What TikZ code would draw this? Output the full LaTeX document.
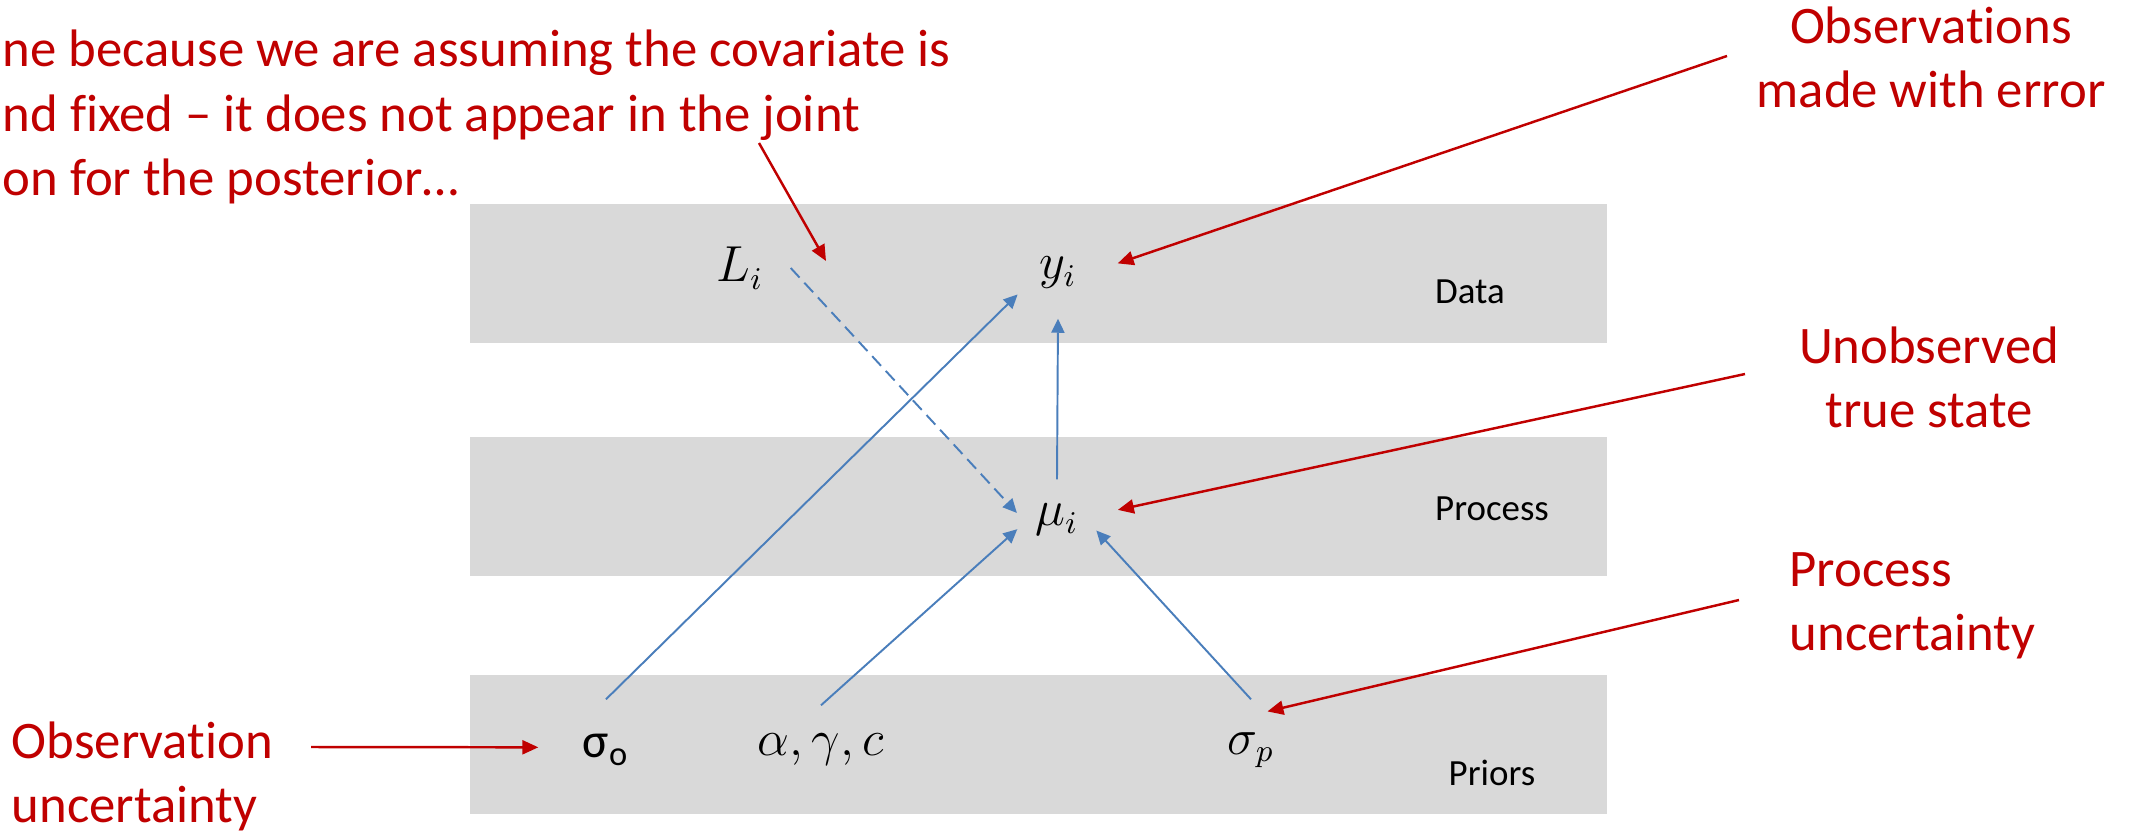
\documentclass[tikz,border=0pt]{standalone}
\usepackage{fontspec}
\setmainfont{Carlito}[Ligatures=NoCommon]
\usetikzlibrary{arrows.meta,positioning,calc}
\definecolor{bandgrey}{HTML}{D9D9D9}
\definecolor{edgeblue}{HTML}{4A7EBB}
\definecolor{notered}{HTML}{C00000}
\tikzset{
  band/.style={fill=bandgrey, draw=none},
  varnode/.style={circle, inner sep=0pt, minimum size=1cm, font=\fontsize{13.5}{16}\selectfont},
  bandlabel/.style={inner sep=0pt, font=\fontsize{10.5}{12}\selectfont},
  note/.style={inner sep=0pt, text=notered, font=\fontsize{15}{18.2}\selectfont},
  arr/.style={-{Triangle[length=1.4mm, width=1.3mm]}, line width=0.55pt, color=edgeblue},
  darr/.style={arr, dash pattern=on 1.3mm off 0.7mm},
  rarr/.style={-{Triangle[length=1.6mm, width=1.4mm]}, line width=0.7pt, color=notered}}

\begin{document}
\begin{tikzpicture}[x=0.01cm, y=-0.01cm]
  \useasboundingbox (0,0) rectangle (2141,833);
  % layers
  \fill[band] (470,204) rectangle (1607,343);
  \fill[band] (470,437) rectangle (1607,576);
  \fill[band] (470,675) rectangle (1607,814);
  \node[bandlabel] (datalbl) at (1470,292) {Data};
  \node[bandlabel] (proclbl) at (1492,509) {Process};
  \node[bandlabel] (priorlbl) at (1492,773) {Priors};

  % quantities
  \node[varnode] (L) at (740,268) {$L_i$};
  \node[varnode, minimum size=0.9cm] (y) at (1058,273) {$y_i$};
  \node[varnode, minimum size=0.8cm] (mu) at (1057,520) {$\mu_i$};
  \node[varnode, font=\fontsize{14}{16}\selectfont] (so) at (606,750) {σ\textsubscript{o}};
  \node[inner sep=0pt, minimum height=0.88cm, font=\fontsize{13.5}{16}\selectfont] (abc) at (821,750) {$\alpha,\gamma,c$};
  \node[varnode] (sp) at (1251,750) {$\sigma_p$};

  \draw[arr] (so.90) -- (y.208);
  \draw[arr] (abc.north) -- (mu.193);
  \draw[arr] (sp.90) -- (mu.345);
  \draw[arr] (mu.90) -- (y.270);
  \draw[darr] (L.0) -- (mu.170);

  % annotations
  \node[note, align=left, anchor=base west] (covnote) at (2,195)
    {ne because we are assuming the covariate is\\nd fixed – it does not appear in the joint\\on for the posterior…};
  \node[note, align=center, anchor=base] (obsnote) at (1931,107) {Observations\\made with error};
  \node[note, align=center, anchor=base] (unobsnote) at (1929,427) {Unobserved\\true state};
  \node[note, align=left, anchor=base west] (procnote) at (1789,650) {Process\\uncertainty};
  \node[note, align=left, anchor=base west] (obsunc) at (11,822) {Observation\\uncertainty};

  \coordinate (covfrom) at (759,143);
  \coordinate (covtip) at (826,261);
  \coordinate (obsfrom) at (1727,56);
  \coordinate (unobsfrom) at (1745,374);
  \coordinate (procfrom) at (1739,600);
  \coordinate (obsuncfrom) at (311,747);
  \draw[rarr] (covfrom) -- (covtip);
  \draw[rarr, shorten >=0.15cm] (obsfrom) -- (y.6);
  \draw[rarr, shorten >=0.21cm] (unobsfrom) -- (mu.8);
  \draw[rarr, shorten >=-0.13cm] (procfrom) -- (sp.55);
  \draw[rarr, shorten >=0.17cm] (obsuncfrom) -- (so.177);
\end{tikzpicture}
\end{document}
